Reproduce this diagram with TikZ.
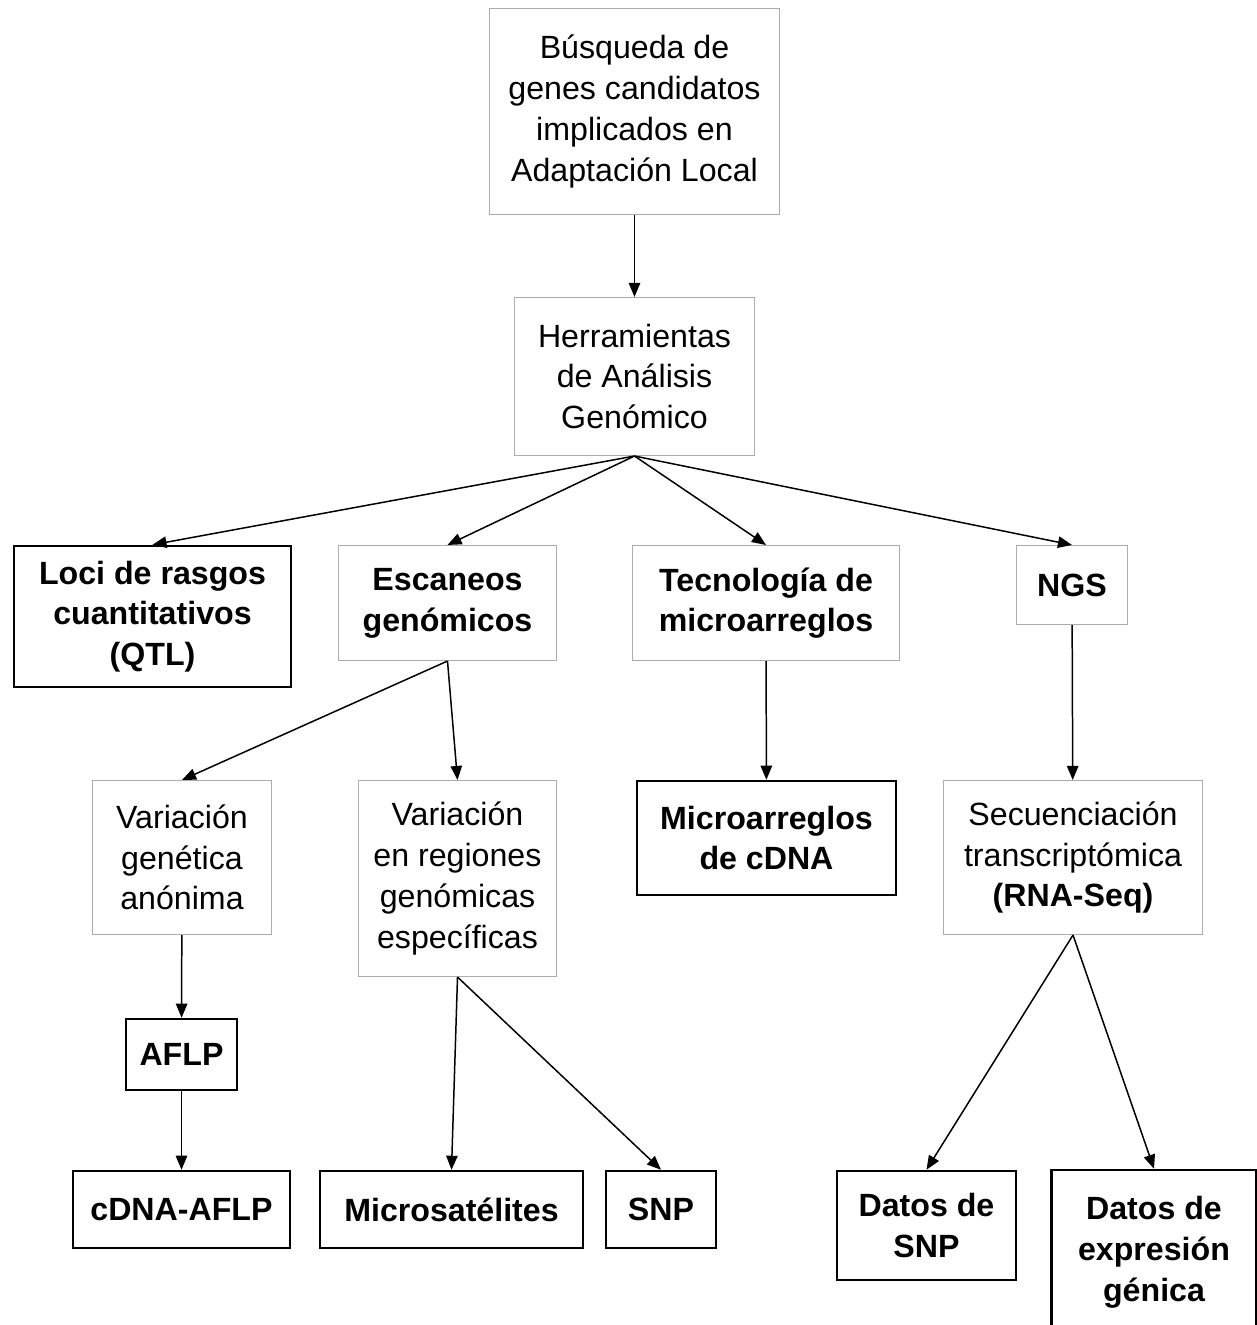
\documentclass[tikz,border=0pt]{standalone}
\usepackage{fontspec}
\setmainfont{Liberation Sans}
\usetikzlibrary{arrows.meta}
\tikzset{
  plain box/.style={
    draw=gray!65,
    line width=0.6pt,
    inner sep=0pt,
    align=center,
    font=\fontsize{18.3}{23.2}\selectfont
  },
  bold box/.style={
    plain box,
    draw=black,
    line width=1.4pt,
    font=\fontsize{18.3}{23.2}\selectfont\bfseries
  },
  sz/.style 2 args={
    minimum width=#1*0.02cm,
    minimum height=#2*0.02cm
  },
  link/.style={
    line width=0.85pt,
    -{Triangle[length=8pt,width=6.5pt]}
  },
}

\begin{document}
\begin{tikzpicture}[x=0.02cm,y=-0.02cm]
    \useasboundingbox (0,0) rectangle (1257,1325);
    \clip (0,0) rectangle (1257,1325);
    % first two levels
    \node[plain box,sz={290}{206}] (top) at (634.5,111.5) {Búsqueda de\\genes candidatos\\implicados en\\Adaptación Local};
    \node[plain box,sz={240}{158}] (herr) at (634.5,376.5) {Herramientas\\de Análisis\\Genómico};
    % tools
    \node[bold box,sz={277}{141}] (qtl) at (152.5,616.5) {Loci de rasgos\\cuantitativos\\(QTL)};
    \node[plain box,sz={218}{115}] (scan) at (447.5,603) {\bfseries Escaneos\\\bfseries genómicos};
    \node[plain box,sz={267}{115}] (micro) at (766,603) {\bfseries Tecnología de\\\bfseries microarreglos};
    \node[plain box,sz={111}{79}] (ngs) at (1072,585) {\bfseries NGS};
    % third level
    \node[plain box,sz={179}{154}] (anon) at (182,857.5) {Variación\\genética\\anónima};
    \node[plain box,sz={198}{196}] (spec) at (457.5,878.5) {Variación\\en regiones\\genómicas\\específicas};
    \node[bold box,sz={259}{114}] (cdnaarr) at (766.5,838) {Microarreglos\\de cDNA};
    \node[plain box,sz={259}{154}] (rnaseq) at (1073,857.5) {Secuenciación\\transcriptómica\\\bfseries(RNA-Seq)};
    % markers and data
    \node[bold box,sz={111}{71}] (aflp) at (181.5,1054.5) {AFLP};
    \node[bold box,sz={217}{77}] (cdnaaflp) at (181.5,1209.5) {cDNA-AFLP};
    \node[bold box,sz={263}{77}] (msat) at (451.5,1209.5) {Microsatélites};
    \node[bold box,sz={110}{77}] (snp) at (661,1209.5) {SNP};
    \node[bold box,sz={179}{109}] (dsnp) at (926.5,1225.5) {Datos de\\SNP};
    \node[bold box,sz={205}{164}] (dexp) at (1154,1252) {Datos de\\expresión\\génica};
    % connectors
    \draw[link] (top) -- (herr);
    \foreach \t in {qtl,scan,micro,ngs}
      \draw[link] (herr.south) -- (\t.north);
    \draw[link] (scan.south) -- (anon.north);
    \draw[link] (scan.south) -- (spec.north);
    \draw[link] (micro) -- (cdnaarr);
    \draw[link] (ngs) -- (rnaseq);
    \draw[link] (anon) -- (aflp);
    \draw[link] (aflp) -- (cdnaaflp);
    \draw[link] (spec.south) -- (msat.north);
    \draw[link] (spec.south) -- (snp.north);
    \draw[link] (rnaseq.south) -- (dsnp.north);
    \draw[link] (rnaseq.south) -- (dexp.north);
\end{tikzpicture}
\end{document}
